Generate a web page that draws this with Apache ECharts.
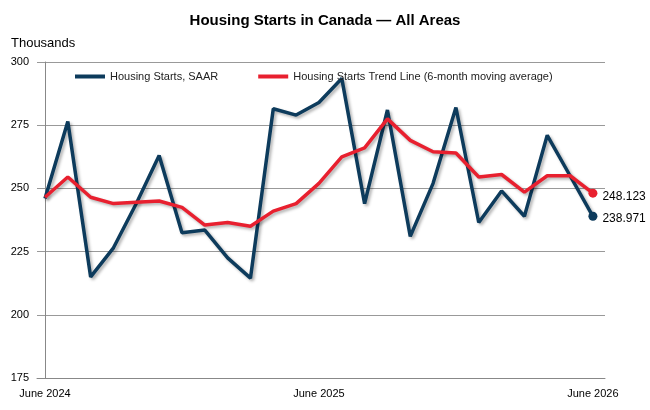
<!DOCTYPE html><html><head><meta charset="utf-8">
<script src="https://cdn.jsdelivr.net/npm/echarts@6/dist/echarts.min.js"></script>
<style>body{margin:0}#c{width:650px;height:410px}</style></head><body><div id="c"></div>
<script>
const categories=['June 2024','July 2024','Aug 2024','Sep 2024','Oct 2024','Nov 2024','Dec 2024','Jan 2025','Feb 2025','Mar 2025','Apr 2025','May 2025','June 2025','July 2025','Aug 2025','Sep 2025','Oct 2025','Nov 2025','Dec 2025','Jan 2026','Feb 2026','Mar 2026','Apr 2026','May 2026','June 2026'];
const saar=[246,276.5,215,226.5,244,263,232.5,233.5,222.5,214.5,281.5,279,284,293.5,244,281,231,252,282,236.5,249,239,271,255,238.971];
const trend=[246.5,254.5,246.5,244,244.5,245,242.5,235.5,236.5,235,241,244,252,262.5,266,277.5,269,264.5,264,254.5,255.5,248.5,255,255,248.123];
const tickIdx=[0,12,24];
function mk(arr){return arr.map((v,i)=>{const o={value:[i,v]};if(i===arr.length-1){o.symbol='circle';o.symbolSize=9;o.label={show:true,position:'right',formatter:String(v),color:'#000',fontSize:12,offset:i===arr.length-1&&arr===saar?[0,2]:[0,4]};}return o;});}
const ch=echarts.init(document.getElementById('c'));
ch.setOption({
 title:{text:'Housing Starts in Canada — All Areas',left:'center',top:8,textStyle:{fontSize:15,fontWeight:'bold',color:'#000',fontFamily:'Liberation Sans'}},
 legend:{top:66,left:70,itemGap:40,itemWidth:30,icon:'rect',itemHeight:4,textStyle:{fontSize:11,color:'#222',fontFamily:'Liberation Sans'},data:['Housing Starts, SAAR','Housing Starts Trend Line (6-month moving average)']},
 grid:{left:37,right:45,top:62,bottom:32},
 xAxis:{type:'value',min:-0.35,max:24.53,axisLine:{lineStyle:{color:'#888'}},axisTick:{show:false},splitLine:{show:false},
  axisLabel:{customValues:tickIdx,formatter:v=>categories[Math.round(v)],color:'#000',fontSize:11,margin:10,fontFamily:'Liberation Sans'}},
 yAxis:{type:'value',min:175,max:300,interval:25,name:'Thousands',nameLocation:'end',nameGap:12,nameTextStyle:{align:'left',padding:[0,0,0,-34],color:'#000',fontSize:13,fontFamily:'Liberation Sans'},
  axisLine:{show:true,lineStyle:{color:'#888'}},axisTick:{show:false},splitLine:{lineStyle:{color:'#999'}},axisLabel:{color:'#000',fontSize:11,fontFamily:'Liberation Sans'}},
 series:[
  {name:'Housing Starts, SAAR',type:'line',data:mk(saar),symbol:'none',lineStyle:{color:'#0d3b5c',width:3.5,shadowColor:'rgba(0,0,0,0.3)',shadowBlur:3,shadowOffsetX:2,shadowOffsetY:2},itemStyle:{color:'#0d3b5c'},z:2},
  {name:'Housing Starts Trend Line (6-month moving average)',type:'line',data:mk(trend),symbol:'none',lineStyle:{color:'#e8202f',width:3.5,shadowColor:'rgba(0,0,0,0.3)',shadowBlur:3,shadowOffsetX:2,shadowOffsetY:2},itemStyle:{color:'#e8202f'},z:3}
 ]
});
</script></body></html>
